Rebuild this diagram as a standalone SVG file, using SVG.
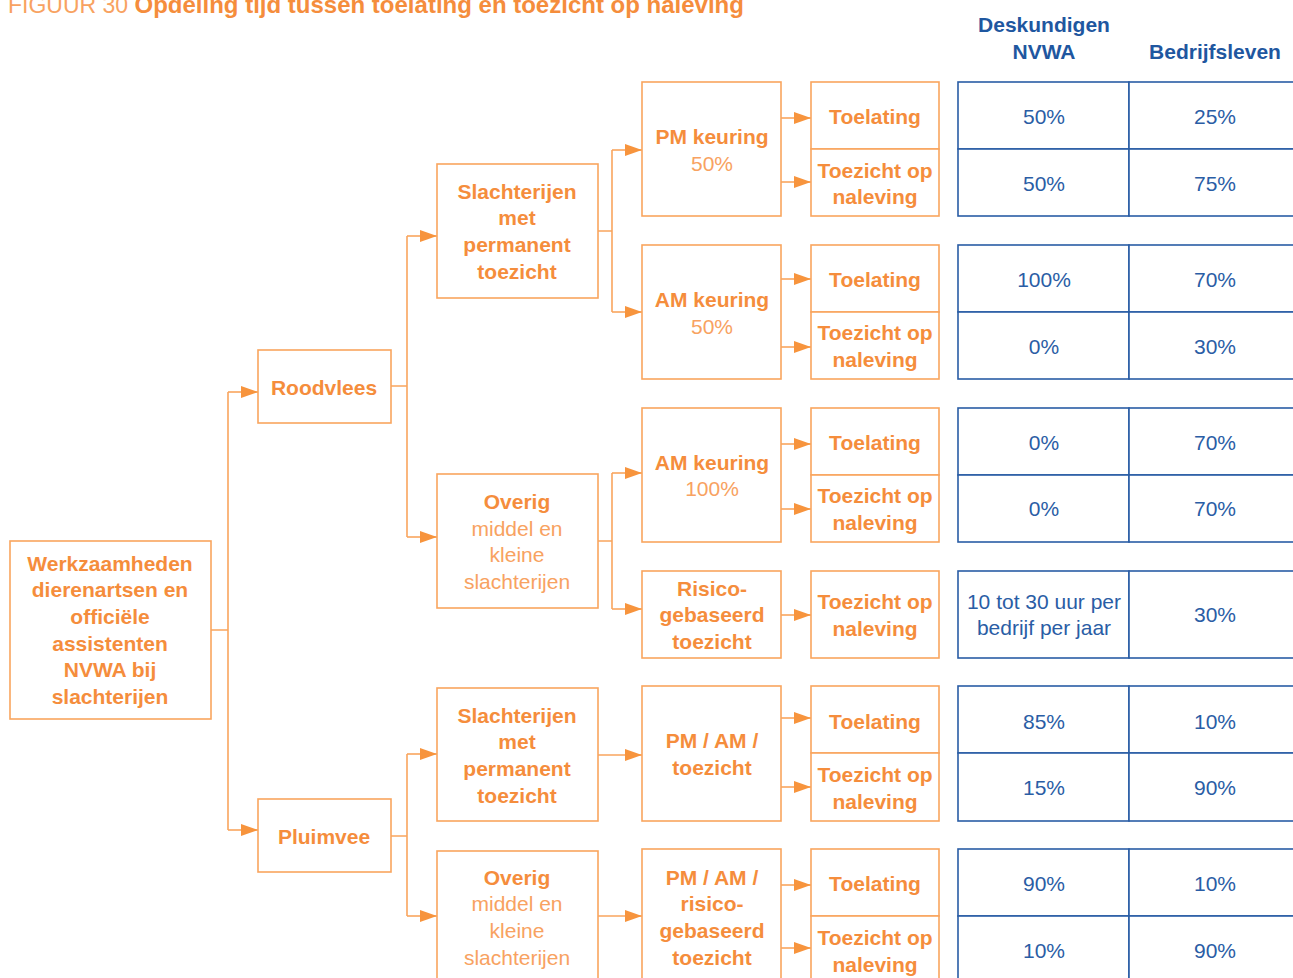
<svg xmlns="http://www.w3.org/2000/svg" width="1293" height="978" viewBox="0 0 1293 978">
<style>
.box{fill:#fff;stroke:#F9A55E;stroke-width:1.6}
.cell{fill:#fff;stroke:#2A5DA5;stroke-width:1.6}
.ln{fill:none;stroke:#F9A55E;stroke-width:1.6}
.b{font-family:"Liberation Sans",Arial,sans-serif;font-size:21px;font-weight:bold;fill:#F58D3C;text-anchor:middle}
.l{font-family:"Liberation Sans",Arial,sans-serif;font-size:21px;fill:#F8A261;text-anchor:middle}
.t{font-family:"Liberation Sans",Arial,sans-serif;font-size:21px;fill:#2A5DA5;text-anchor:middle}
.h{font-family:"Liberation Sans",Arial,sans-serif;font-size:21px;font-weight:bold;fill:#1F57A0;text-anchor:middle}
</style>
<defs>
<marker id="ah" markerUnits="userSpaceOnUse" markerWidth="17" markerHeight="12" refX="17" refY="6" orient="auto">
<path d="M0,0 L17,6 L0,12 z" fill="#F7943D"/>
</marker>
</defs>
<rect width="1293" height="978" fill="#fff"/>
<text x="8" y="13" font-family="Liberation Sans,Arial,sans-serif" font-size="23" fill="#F8A261">FIGUUR 30 <tspan font-weight="bold" font-size="24" fill="#F58D3C">Opdeling tijd tussen toelating en toezicht op naleving</tspan></text>

<g id="header">
<text class="h" x="1044" y="32">Deskundigen</text>
<text class="h" x="1044" y="59">NVWA</text>
<text class="h" x="1215" y="59">Bedrijfsleven</text>
</g>

<g id="connectors">
<path class="ln" d="M211,630 H228 V392 M228,630 V830"/>
<path class="ln" d="M228,392 H258" marker-end="url(#ah)"/>
<path class="ln" d="M228,830 H258" marker-end="url(#ah)"/>
<path class="ln" d="M391,386 H407 V236 M407,386 V537"/>
<path class="ln" d="M407,236 H437" marker-end="url(#ah)"/>
<path class="ln" d="M407,537 H437" marker-end="url(#ah)"/>
<path class="ln" d="M391,836 H407 V754 M407,836 V916"/>
<path class="ln" d="M407,754 H437" marker-end="url(#ah)"/>
<path class="ln" d="M407,916 H437" marker-end="url(#ah)"/>
<path class="ln" d="M598,231 H612 V150 M612,231 V312"/>
<path class="ln" d="M612,150 H642" marker-end="url(#ah)"/>
<path class="ln" d="M612,312 H642" marker-end="url(#ah)"/>
<path class="ln" d="M598,541 H612 V473 M612,541 V609"/>
<path class="ln" d="M612,473 H642" marker-end="url(#ah)"/>
<path class="ln" d="M612,609 H642" marker-end="url(#ah)"/>
<path class="ln" d="M598,755 H642" marker-end="url(#ah)"/>
<path class="ln" d="M598,916 H642" marker-end="url(#ah)"/>
<path class="ln" d="M781,118 H811" marker-end="url(#ah)"/>
<path class="ln" d="M781,182 H811" marker-end="url(#ah)"/>
<path class="ln" d="M781,279 H811" marker-end="url(#ah)"/>
<path class="ln" d="M781,347 H811" marker-end="url(#ah)"/>
<path class="ln" d="M781,444 H811" marker-end="url(#ah)"/>
<path class="ln" d="M781,509 H811" marker-end="url(#ah)"/>
<path class="ln" d="M781,615 H811" marker-end="url(#ah)"/>
<path class="ln" d="M781,718 H811" marker-end="url(#ah)"/>
<path class="ln" d="M781,787 H811" marker-end="url(#ah)"/>
<path class="ln" d="M781,885 H811" marker-end="url(#ah)"/>
<path class="ln" d="M781,948 H811" marker-end="url(#ah)"/>
</g>

<g id="root">
<rect class="box" x="10" y="541" width="201" height="178"/>
<text class="b" x="110" y="571">Werkzaamheden</text>
<text class="b" x="110" y="597">dierenartsen en</text>
<text class="b" x="110" y="624">officiële</text>
<text class="b" x="110" y="651">assistenten</text>
<text class="b" x="110" y="677">NVWA bij</text>
<text class="b" x="110" y="704">slachterijen</text>
</g>

<g id="roodvlees">
<rect class="box" x="258" y="350" width="133" height="73"/>
<text class="b" x="324" y="395">Roodvlees</text>
</g>
<g id="pluimvee">
<rect class="box" x="258" y="799" width="133" height="73"/>
<text class="b" x="324" y="844">Pluimvee</text>
</g>

<g id="slacht1">
<rect class="box" x="437" y="164" width="161" height="134"/>
<text class="b" x="517" y="199">Slachterijen</text>
<text class="b" x="517" y="225">met</text>
<text class="b" x="517" y="252">permanent</text>
<text class="b" x="517" y="279">toezicht</text>
</g>
<g id="overig1">
<rect class="box" x="437" y="474" width="161" height="134"/>
<text class="b" x="517" y="509">Overig</text>
<text class="l" x="517" y="536">middel en</text>
<text class="l" x="517" y="562">kleine</text>
<text class="l" x="517" y="589">slachterijen</text>
</g>
<g id="slacht2">
<rect class="box" x="437" y="688" width="161" height="133"/>
<text class="b" x="517" y="723">Slachterijen</text>
<text class="b" x="517" y="749">met</text>
<text class="b" x="517" y="776">permanent</text>
<text class="b" x="517" y="803">toezicht</text>
</g>
<g id="overig2">
<rect class="box" x="437" y="851" width="161" height="140"/>
<text class="b" x="517" y="885">Overig</text>
<text class="l" x="517" y="911">middel en</text>
<text class="l" x="517" y="938">kleine</text>
<text class="l" x="517" y="965">slachterijen</text>
</g>

<g id="pm1">
<rect class="box" x="642" y="82" width="139" height="134"/>
<text class="b" x="712" y="144">PM keuring</text>
<text class="l" x="712" y="171">50%</text>
</g>
<g id="am1">
<rect class="box" x="642" y="245" width="139" height="134"/>
<text class="b" x="712" y="307">AM keuring</text>
<text class="l" x="712" y="334">50%</text>
</g>
<g id="am2">
<rect class="box" x="642" y="408" width="139" height="134"/>
<text class="b" x="712" y="470">AM keuring</text>
<text class="l" x="712" y="496">100%</text>
</g>
<g id="risico">
<rect class="box" x="642" y="571" width="139" height="87"/>
<text class="b" x="712" y="596">Risico-</text>
<text class="b" x="712" y="622">gebaseerd</text>
<text class="b" x="712" y="649">toezicht</text>
</g>
<g id="pmam1">
<rect class="box" x="642" y="686" width="139" height="135"/>
<text class="b" x="712" y="748">PM / AM /</text>
<text class="b" x="712" y="775">toezicht</text>
</g>
<g id="pmam2">
<rect class="box" x="642" y="849" width="139" height="140"/>
<text class="b" x="712" y="885">PM / AM /</text>
<text class="b" x="712" y="911">risico-</text>
<text class="b" x="712" y="938">gebaseerd</text>
<text class="b" x="712" y="965">toezicht</text>
</g>

<g id="act1">
<rect class="box" x="811" y="82" width="128" height="67"/>
<text class="b" x="875" y="124">Toelating</text>
<rect class="box" x="811" y="149" width="128" height="67"/>
<text class="b" x="875" y="178">Toezicht op</text>
<text class="b" x="875" y="204">naleving</text>
</g>
<g id="act2">
<rect class="box" x="811" y="245" width="128" height="67"/>
<text class="b" x="875" y="287">Toelating</text>
<rect class="box" x="811" y="312" width="128" height="67"/>
<text class="b" x="875" y="340">Toezicht op</text>
<text class="b" x="875" y="367">naleving</text>
</g>
<g id="act3">
<rect class="box" x="811" y="408" width="128" height="67"/>
<text class="b" x="875" y="450">Toelating</text>
<rect class="box" x="811" y="475" width="128" height="67"/>
<text class="b" x="875" y="503">Toezicht op</text>
<text class="b" x="875" y="530">naleving</text>
</g>
<g id="act4">
<rect class="box" x="811" y="571" width="128" height="87"/>
<text class="b" x="875" y="609">Toezicht op</text>
<text class="b" x="875" y="636">naleving</text>
</g>
<g id="act5">
<rect class="box" x="811" y="686" width="128" height="67"/>
<text class="b" x="875" y="729">Toelating</text>
<rect class="box" x="811" y="753" width="128" height="68"/>
<text class="b" x="875" y="782">Toezicht op</text>
<text class="b" x="875" y="809">naleving</text>
</g>
<g id="act6">
<rect class="box" x="811" y="849" width="128" height="67"/>
<text class="b" x="875" y="891">Toelating</text>
<rect class="box" x="811" y="916" width="128" height="70"/>
<text class="b" x="875" y="945">Toezicht op</text>
<text class="b" x="875" y="972">naleving</text>
</g>

<g id="table">
<rect class="cell" x="958" y="82" width="171" height="67"/><rect class="cell" x="1129" y="82" width="180" height="67"/>
<rect class="cell" x="958" y="149" width="171" height="67"/><rect class="cell" x="1129" y="149" width="180" height="67"/>
<text class="t" x="1044" y="124">50%</text><text class="t" x="1215" y="124">25%</text>
<text class="t" x="1044" y="191">50%</text><text class="t" x="1215" y="191">75%</text>

<rect class="cell" x="958" y="245" width="171" height="67"/><rect class="cell" x="1129" y="245" width="180" height="67"/>
<rect class="cell" x="958" y="312" width="171" height="67"/><rect class="cell" x="1129" y="312" width="180" height="67"/>
<text class="t" x="1044" y="287">100%</text><text class="t" x="1215" y="287">70%</text>
<text class="t" x="1044" y="354">0%</text><text class="t" x="1215" y="354">30%</text>

<rect class="cell" x="958" y="408" width="171" height="67"/><rect class="cell" x="1129" y="408" width="180" height="67"/>
<rect class="cell" x="958" y="475" width="171" height="67"/><rect class="cell" x="1129" y="475" width="180" height="67"/>
<text class="t" x="1044" y="450">0%</text><text class="t" x="1215" y="450">70%</text>
<text class="t" x="1044" y="516">0%</text><text class="t" x="1215" y="516">70%</text>

<rect class="cell" x="958" y="571" width="171" height="87"/><rect class="cell" x="1129" y="571" width="180" height="87"/>
<text class="t" x="1044" y="609">10 tot 30 uur per</text>
<text class="t" x="1044" y="635">bedrijf per jaar</text>
<text class="t" x="1215" y="622">30%</text>

<rect class="cell" x="958" y="686" width="171" height="67"/><rect class="cell" x="1129" y="686" width="180" height="67"/>
<rect class="cell" x="958" y="753" width="171" height="68"/><rect class="cell" x="1129" y="753" width="180" height="68"/>
<text class="t" x="1044" y="729">85%</text><text class="t" x="1215" y="729">10%</text>
<text class="t" x="1044" y="795">15%</text><text class="t" x="1215" y="795">90%</text>

<rect class="cell" x="958" y="849" width="171" height="67"/><rect class="cell" x="1129" y="849" width="180" height="67"/>
<rect class="cell" x="958" y="916" width="171" height="70"/><rect class="cell" x="1129" y="916" width="180" height="70"/>
<text class="t" x="1044" y="891">90%</text><text class="t" x="1215" y="891">10%</text>
<text class="t" x="1044" y="958">10%</text><text class="t" x="1215" y="958">90%</text>
</g>
</svg>
